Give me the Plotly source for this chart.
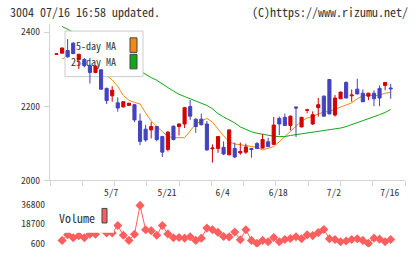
import numpy as np
import plotly.graph_objects as go

# ---------------- data ----------------
dates = ["4/18","4/21","4/22","4/23","4/24","4/25","4/28","4/30","5/1","5/2",
         "5/7","5/8","5/9","5/12","5/13","5/14","5/15","5/16","5/19","5/20",
         "5/21","5/22","5/23","5/26","5/27","5/28","5/29","5/30","6/2","6/3",
         "6/4","6/5","6/6","6/9","6/10","6/11","6/12","6/13","6/16","6/17",
         "6/18","6/19","6/20","6/23","6/24","6/25","6/26","6/27","6/30","7/1",
         "7/2","7/3","7/4","7/7","7/8","7/9","7/10","7/11","7/14","7/15",
         "7/16"]

open_ = [2340,2343,2350,2370,2326,2326,2309,2291,2298,2248,
         2228,2209,2198,2202,2204,2160,2138,2136,2145,2118,
         2083,2146,2145,2152,2199,2165,2165,2152,2085,2086,
         2089,2069,2086,2074,2076,2086,2099,2087,2104,2097,
         2167,2170,2148,2198,2144,2189,2152,2196,2227,2272,
         2176,2220,2264,2228,2246,2235,2227,2235,2248,2256,
         2249]
high = [2341,2358,2381,2373,2341,2330,2312,2310,2300,2250,
        2254,2224,2213,2209,2206,2180,2150,2157,2147,2120,
        2133,2148,2153,2198,2217,2167,2180,2160,2097,2118,
        2105,2137,2102,2102,2099,2087,2103,2125,2115,2171,
        2172,2180,2175,2198,2171,2193,2186,2222,2229,2273,
        2230,2239,2267,2245,2274,2245,2236,2243,2256,2265,
        2260]
low = [2340,2342,2331,2340,2300,2305,2261,2289,2244,2206,
       2212,2185,2197,2201,2157,2095,2104,2113,2105,2063,
       2078,2108,2121,2141,2163,2128,2148,2080,2048,2074,
       2068,2067,2060,2069,2071,2061,2085,2086,2090,2096,
       2122,2147,2135,2117,2143,2181,2149,2172,2172,2178,
       2172,2219,2221,2212,2232,2211,2216,2200,2200,2243,
       2220]
close = [2341,2357,2333,2342,2340,2309,2291,2308,2246,2215,
         2243,2195,2212,2208,2163,2105,2109,2145,2110,2076,
         2130,2110,2152,2196,2173,2145,2150,2082,2087,2118,
         2071,2136,2063,2078,2090,2083,2086,2110,2091,2149,
         2152,2148,2173,2195,2170,2190,2177,2204,2173,2179,
         2222,2238,2222,2230,2233,2212,2235,2220,2222,2264,
         2247]

ma5 = [None,2327,2335,2340,2342,2334,2321,2313,2297,2283,
       2271,2253,2229,2216,2210,2206,2182,2160,2145,2131,
       2118,2115,2115,2115,2133,2152,2160,2167,2157,2137,
       2120,2104,2098,2096,2093,2091,2089,2082,2086,2091,
       2104,2118,2133,2148,2160,2168,2172,2179,2184,2186,
       2192,2199,2204,2209,2220,2228,2230,2228,2230,2235,
       2237]
ma25 = [None,2415,2408,2400,2393,2385,2376,2367,2358,2348,
        2339,2330,2320,2311,2302,2293,2286,2277,2270,2259,
        2250,2241,2232,2226,2220,2215,2208,2202,2193,2180,
        2171,2163,2155,2144,2137,2131,2127,2124,2121,2119,
        2118,2118,2121,2123,2126,2128,2130,2133,2134,2135,
        2138,2141,2145,2150,2155,2160,2166,2170,2177,2183,
        2191]

volume = [None,3300,8700,5800,7600,5800,9000,9000,14000,10300,
          10300,17200,8100,3300,9000,36000,13300,12400,8100,17200,
          9400,5800,6000,5400,6700,3300,5400,14800,13300,10800,
          6900,6600,11200,3950,13300,3300,500,3300,2100,6000,
          2100,4200,5100,6700,4900,8500,7800,10600,13500,4900,
          4200,2100,2700,4200,4900,3300,500,5400,4500,2100,
          4200]

price_ticks = [2000, 2200, 2400]
vol_ticks = [600, 18700, 36800]
date_labels = ["5/7", "5/21", "6/4", "6/18", "7/2", "7/16"]

# ---------------- styling ----------------
W, H = 420, 259
FONT = "Noto Sans Mono CJK JP, DejaVu Sans Mono, monospace"
RED = "#d40000"
BLUE = "#4343c0"
ORANGE = "#f08a10"
GREEN = "#10a818"
VOLC = "#ff5e5e"
AXC = "#d4d4d4"
TXT = "#333333"

x_idx = list(range(len(dates)))
x_range = [-1.167, 62.57]
y_range = [2000, 2420.9]
vol_range = [-3020, 42230]

def px_x(p):
    return p / W

def px_y(p):
    return 1 - p / H

dom_x = [px_x(50), px_x(405)]
dom_y_price = [px_y(184), px_y(23)]
dom_y_vol = [px_y(253), px_y(203)]

fig = go.Figure()

# MA lines (bottom layer)
fig.add_trace(go.Scatter(x=x_idx, y=ma5, mode="lines", line=dict(color=ORANGE, width=1),
                         xaxis="x", yaxis="y", hoverinfo="skip"))
fig.add_trace(go.Scatter(x=x_idx, y=ma25, mode="lines", line=dict(color=GREEN, width=1),
                         xaxis="x", yaxis="y", hoverinfo="skip"))

# legend box (middle layer, frac coords of plot area)
def fx(p):
    return (p - 50) / 355.0

def fy(p):
    return (184 - p) / 161.0

def rect(x0, y0, x1, y1):
    return [fx(x0), fx(x1), fx(x1), fx(x0), fx(x0)], [fy(y0), fy(y0), fy(y1), fy(y1), fy(y0)]

bx, by = rect(65, 30, 143, 77)
fig.add_trace(go.Scatter(x=bx, y=by, mode="lines", fill="toself", fillcolor="white",
                         line=dict(color="#cccccc", width=1), xaxis="x2", yaxis="y2", hoverinfo="skip"))
fig.add_trace(go.Scatter(x=[fx(116), fx(116)], y=[fy(46.5), fy(63)], mode="text",
                         text=["5-day MA", "25-day MA"], textposition="middle left",
                         textfont=dict(family=FONT, size=10, color=TXT),
                         xaxis="x2", yaxis="y2", hoverinfo="skip"))
ox, oy = rect(130, 37, 137, 52)
fig.add_trace(go.Scatter(x=ox, y=oy, mode="lines", fill="toself", fillcolor=ORANGE,
                         line=dict(color="#444444", width=1), xaxis="x2", yaxis="y2", hoverinfo="skip"))
gx, gy = rect(130, 54, 137, 69)
fig.add_trace(go.Scatter(x=gx, y=gy, mode="lines", fill="toself", fillcolor=GREEN,
                         line=dict(color="#444444", width=1), xaxis="x2", yaxis="y2", hoverinfo="skip"))

# candles (top layer)
fig.add_trace(go.Candlestick(x=x_idx, open=open_, high=high, low=low, close=close,
                             increasing=dict(line=dict(color=RED, width=1), fillcolor=RED),
                             decreasing=dict(line=dict(color=BLUE, width=1), fillcolor=BLUE),
                             whiskerwidth=0, xaxis="x3", yaxis="y3", hoverinfo="skip"))

# volume
fig.add_trace(go.Scatter(x=x_idx, y=volume, mode="lines+markers",
                         line=dict(color=VOLC, width=1),
                         marker=dict(symbol="diamond", size=7, color=VOLC),
                         xaxis="x4", yaxis="y4", hoverinfo="skip"))

tick_x = list(np.linspace(x_range[0], x_range[1], 12))
tick_x[0] += 1e-6
tick_x[-1] -= 1e-6
date_pos = [dates.index(d) for d in date_labels]

fig.update_layout(
    width=W, height=H, margin=dict(l=0, r=0, t=0, b=0),
    paper_bgcolor="white", plot_bgcolor="white", showlegend=False,
    hovermode=False, boxgap=0.2,
    xaxis=dict(domain=dom_x, range=x_range, anchor="y", showline=True, linecolor=AXC,
               linewidth=1, ticks="outside", ticklen=5, tickcolor=AXC, tickwidth=1,
               tickvals=tick_x, showticklabels=False, showgrid=False, zeroline=False,
               rangeslider=dict(visible=False)),
    yaxis=dict(domain=dom_y_price, range=y_range, anchor="x", showline=True, linecolor=AXC,
               linewidth=1, ticks="outside", ticklen=5, tickcolor=AXC, tickwidth=1,
               tickvals=price_ticks, ticktext=[str(v) for v in price_ticks],
               tickfont=dict(family=FONT, size=9.5, color=TXT), ticklabelstandoff=2,
               showgrid=False, zeroline=False),
    xaxis2=dict(overlaying="x", range=[0, 1], anchor="y2", visible=False),
    yaxis2=dict(overlaying="y", range=[0, 1], anchor="x2", visible=False),
    xaxis3=dict(overlaying="x", range=x_range, anchor="y3", visible=False,
                rangeslider=dict(visible=False)),
    yaxis3=dict(overlaying="y", range=y_range, anchor="x3", visible=False),
    xaxis4=dict(domain=dom_x, range=x_range, anchor="y4", side="top", showline=False,
                ticks="", tickvals=date_pos, ticktext=date_labels,
                tickfont=dict(family=FONT, size=9.5, color=TXT), ticklabelshift=-1,
                showgrid=False, zeroline=False),
    yaxis4=dict(domain=dom_y_vol, range=vol_range, anchor="x4", showline=False, ticks="",
                tickvals=vol_ticks, ticktext=[str(v) for v in vol_ticks],
                tickfont=dict(family=FONT, size=9.5, color=TXT), ticklabelstandoff=4,
                showgrid=False, zeroline=False),
    shapes=[
        dict(type="rect", xref="paper", yref="paper", layer="above",
             x0=px_x(56), x1=px_x(114), y0=px_y(238), y1=px_y(206),
             fillcolor="white", line=dict(width=0)),
        dict(type="rect", xref="paper", yref="paper", layer="above",
             x0=px_x(102), x1=px_x(107), y0=px_y(228), y1=px_y(213),
             fillcolor=VOLC, line=dict(color="#444444", width=1)),
    ],
    annotations=[
        dict(text="3004 07/16 16:58 updated.", xref="paper", yref="paper",
             x=px_x(8), y=px_y(10), xanchor="left", yanchor="middle", showarrow=False,
             font=dict(family=FONT, size=12, color=TXT)),
        dict(text="(C)https://www.rizumu.net/", xref="paper", yref="paper",
             x=px_x(410), y=px_y(10), xanchor="right", yanchor="middle", showarrow=False,
             font=dict(family=FONT, size=12, color=TXT)),
        dict(text="Volume", xref="paper", yref="paper",
             x=px_x(57), y=px_y(222), xanchor="left", yanchor="middle", showarrow=False,
             font=dict(family=FONT, size=12, color=TXT)),
    ],
)

fig.write_html("out.html")
